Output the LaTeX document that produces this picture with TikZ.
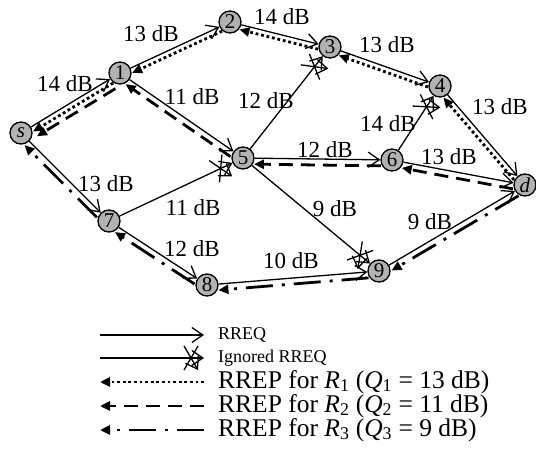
\documentclass[tikz,border=0pt]{standalone}
\usepackage{fontspec}
\setmainfont{Liberation Serif}
\usetikzlibrary{arrows.meta,calc,decorations.markings}

\tikzset{
  nd/.style={circle, draw, line width=1.3pt, fill=black!30, minimum size=22pt,
    inner sep=0pt, font=\fontsize{21}{21}\selectfont},
  lbl/.style={inner sep=0pt, font=\fontsize{23}{24}\selectfont},
  keysmall/.style={inner sep=0pt, anchor=west, font=\fontsize{18}{19}\selectfont},
  keybig/.style={inner sep=0pt, anchor=west, font=\fontsize{25.5}{26}\selectfont},
  req/.style={draw, line width=1.3pt,
    -{Straight Barb[length=11pt,width=15pt,line width=1.3pt]}},
  xmark/.style={decoration={markings, mark=at position -13pt with {
      \draw[line width=1.3pt] (-7pt,-12pt) -- (7pt,12pt) (-7pt,12pt) -- (7pt,-12pt);}},
    postaction={decorate}},
  ign/.style={req, xmark},
  rtip/.style={-{Triangle[length=10pt,width=9pt]}},
  rone/.style={draw, line width=2.8pt, dash pattern=on 2.8pt off 2.8pt, rtip},
  rtwo/.style={draw, line width=2.8pt, dash pattern=on 14pt off 8pt, rtip},
  rthree/.style={draw, line width=2.8pt, dash pattern=on 27pt off 9pt on 3pt off 9pt, rtip},
}

% reply path from #3 to #4, moved #5 to the left of its direction
\newcommand\replyline[5][11pt]{%
  \draw[#2, shorten <=#1, shorten >=#1] ($(#3)!#5!90:(#4)$) -- ($(#4)!#5!-90:(#3)$);}

\begin{document}
\begin{tikzpicture}[x=1pt, y=-1pt]
\useasboundingbox (0,0) rectangle (536,452);

% stations
\node[nd] (s) at (21,133) {\textit{s}};
\node[nd] (n1) at (120,73) {1};
\node[nd] (n2) at (230,22) {2};
\node[nd] (n3) at (330,47) {3};
\node[nd] (n4) at (440,86) {4};
\node[nd] (n5) at (243,158) {5};
\node[nd] (n6) at (392,160) {6};
\node[nd] (d) at (525,185) {\textit{d}};
\node[nd] (n7) at (109,221) {7};
\node[nd] (n8) at (207,285) {8};
\node[nd] (n9) at (379,271) {9};

% route requests
\draw[req] (s) -- (n1);
\draw[req] (n1) -- (n2);
\draw[req] (n2) -- (n3);
\draw[req] (n3) -- (n4);
\draw[req] (n4) -- (d);
\draw[req] (n1) -- (n5);
\draw[ign] (n5) -- (n3);
\draw[req] (n5) -- (n6);
\draw[ign] (n6) -- (n4);
\draw[req] (n6) -- (d);
\draw[ign] (n5) -- (n9);
\draw[req] (s) -- (n7);
\draw[ign] (n7) -- (n5);
\draw[req] (n7) -- (n8);
\draw[req] (n8) -- (n9);
\draw[req] (n9) -- (d);

% route replies
\replyline{rone}{d}{n4}{5pt}
\replyline{rone}{n4}{n3}{5pt}
\replyline{rone}{n3}{n2}{5pt}
\replyline{rone}{n2}{n1}{5pt}
\replyline{rone}{n1}{s}{5pt}
\replyline{rtwo}{d}{n6}{6pt}
\replyline{rtwo}{n6}{n5}{6pt}
\replyline{rtwo}{n5}{n1}{6pt}
\replyline[12pt]{rtwo}{n1}{s}{11pt}
\replyline{rthree}{d}{n9}{6pt}
\replyline{rthree}{n9}{n8}{6pt}
\replyline{rthree}{n8}{n7}{6pt}
\replyline{rthree}{n7}{s}{6pt}

% link qualities
\node[lbl] (q1) at (65,84) {14 dB};
\node[lbl] (q2) at (151,34) {13 dB};
\node[lbl] (q3) at (282,17) {14 dB};
\node[lbl] (q4) at (387,45) {13 dB};
\node[lbl] (q5) at (500,107) {13 dB};
\node[lbl] (q6) at (192,97) {11 dB};
\node[lbl] (q7) at (266,101) {12 dB};
\node[lbl] (q8) at (325,150) {12 dB};
\node[lbl] (q9) at (388,124) {14 dB};
\node[lbl] (q10) at (449,157) {13 dB};
\node[lbl] (q11) at (335,209) {9 dB};
\node[lbl] (q12) at (430,222) {9 dB};
\node[lbl] (q13) at (291,261) {10 dB};
\node[lbl] (q14) at (192,249) {12 dB};
\node[lbl] (q15) at (193,208) {11 dB};
\node[lbl] (q16) at (106,184) {13 dB};

% legend
\coordinate (a1) at (100,335);  \coordinate (b1) at (204,335);
\coordinate (a2) at (100,358);  \coordinate (b2) at (204,358);
\coordinate (a3) at (100,382);  \coordinate (b3) at (204,382);
\coordinate (a4) at (100,406);  \coordinate (b4) at (204,406);
\coordinate (a5) at (100,430);  \coordinate (b5) at (204,430);
\draw[req] (a1) -- (b1);
\draw[ign] (a2) -- (b2);
\draw[rone] (b3) -- (a3);
\draw[rtwo] (b4) -- (a4);
\draw[rthree] (b5) -- (a5);
\node[keysmall] (t1) at (218,335) {RREQ};
\node[keysmall] (t2) at (218,358) {Ignored RREQ};
\node[keybig] (t3) at (218,382) {RREP for \textit{R}\textsubscript{1} (\textit{Q}\textsubscript{1} = 13 dB)};
\node[keybig] (t4) at (218,406) {RREP for \textit{R}\textsubscript{2} (\textit{Q}\textsubscript{2} = 11 dB)};
\node[keybig] (t5) at (218,430) {RREP for \textit{R}\textsubscript{3} (\textit{Q}\textsubscript{3} = 9 dB)};
\end{tikzpicture}
\end{document}
